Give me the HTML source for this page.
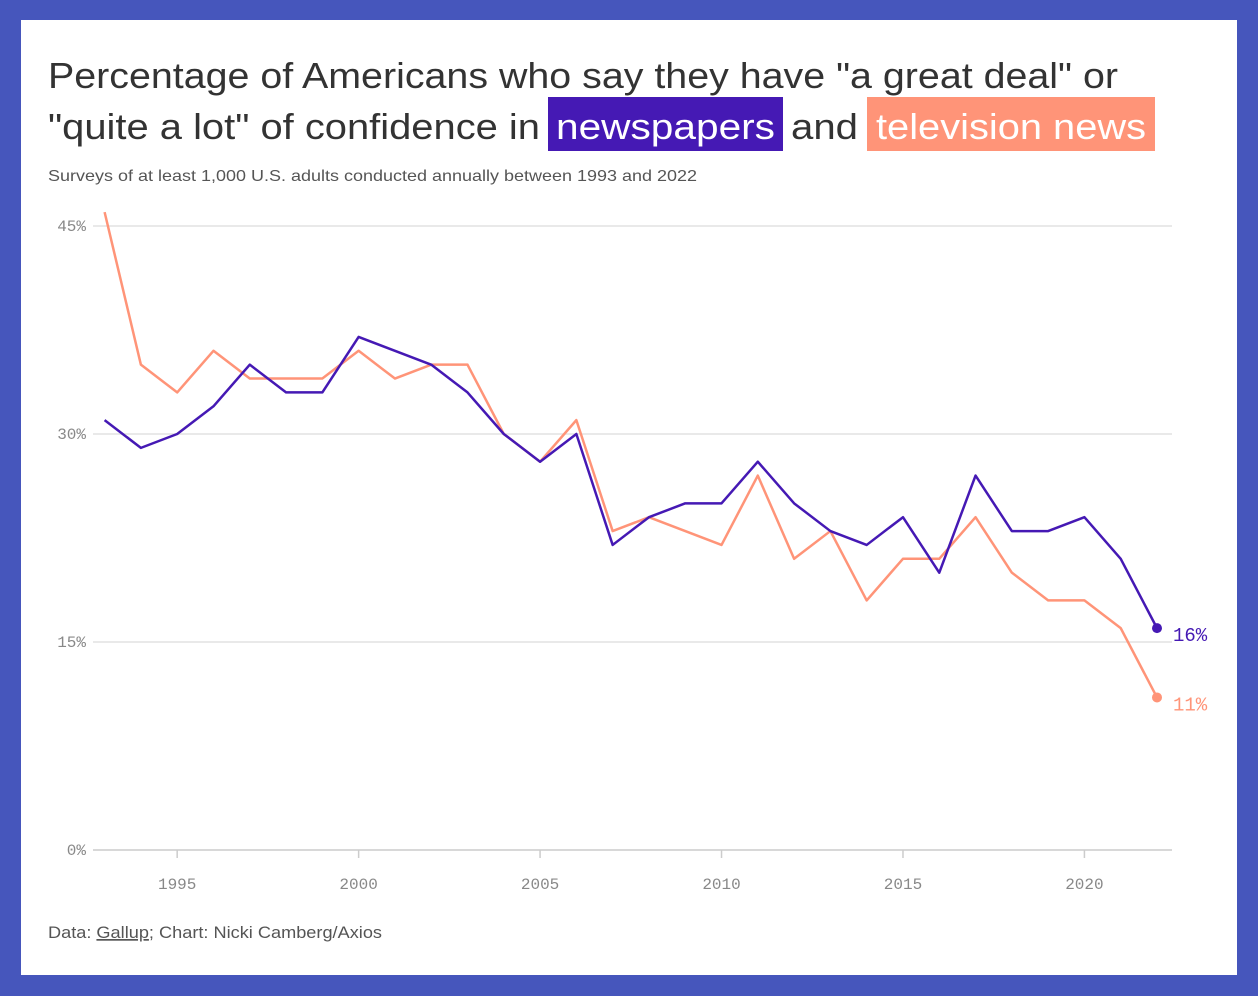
<!DOCTYPE html>
<html><head><meta charset="utf-8"><style>
body{margin:0;background:#4656bc;}
svg{display:block;}
</style></head><body>
<svg width="1258" height="996" xmlns="http://www.w3.org/2000/svg">
<rect x="0" y="0" width="1258" height="996" fill="#4656bc"/>
<rect x="21" y="20" width="1216" height="955" fill="#fff"/>
<g font-family="Liberation Sans, sans-serif" fill="#333">
<text x="48" y="88" font-size="36" textLength="1070" lengthAdjust="spacingAndGlyphs">Percentage of Americans who say they have "a great deal" or</text>
<text x="48" y="139" font-size="36" textLength="492" lengthAdjust="spacingAndGlyphs">"quite a lot" of confidence in</text>
<rect x="548" y="97" width="235" height="54" fill="#4519b4"/>
<text x="556" y="139" font-size="36" fill="#fff" textLength="219" lengthAdjust="spacingAndGlyphs">newspapers</text>
<text x="791" y="139" font-size="36" textLength="67" lengthAdjust="spacingAndGlyphs">and</text>
<rect x="867" y="97" width="288" height="54" fill="#ff9478"/>
<text x="876" y="139" font-size="36" fill="#fff" textLength="270" lengthAdjust="spacingAndGlyphs">television news</text>
<text x="48" y="181" font-size="16" fill="#555" textLength="649" lengthAdjust="spacingAndGlyphs">Surveys of at least 1,000 U.S. adults conducted annually between 1993 and 2022</text>
<text x="48" y="938" font-size="17" fill="#555" textLength="334" lengthAdjust="spacingAndGlyphs">Data: <tspan text-decoration="underline">Gallup</tspan>; Chart: Nicki Camberg/Axios</text>
</g>
<g id="plot"></g>
</svg>
<script>
const years=[1993,1994,1995,1996,1997,1998,1999,2000,2001,2002,2003,2004,2005,2006,2007,2008,2009,2010,2011,2012,2013,2014,2015,2016,2017,2018,2019,2020,2021,2022];
const newspapers=[31,29,30,32,35,33,33,37,36,35,33,30,28,30,22,24,25,25,28,25,23,22,24,20,27,23,23,24,21,16];
const television=[46,35,33,36,34,34,34,36,34,35,35,30,28,31,23,24,23,22,27,21,23,18,21,21,24,20,18,18,16,11];
const yTicks=[0,15,30,45];
const xTicks=[1995,2000,2005,2010,2015,2020];
const NS='http://www.w3.org/2000/svg';
const g=document.getElementById('plot');
const X=y=>104.6+(y-1993)*(1157-104.6)/29;
const Y=v=>850-v*(624/45);
function el(t,a){const e=document.createElementNS(NS,t);for(const k in a)e.setAttribute(k,a[k]);g.appendChild(e);return e;}
yTicks.forEach(t=>{
 const l=el('line',{x1:93,x2:1172,y1:Y(t),y2:Y(t),stroke:t===0?'#ccc':'#e2e2e2','stroke-width':1.5});
 
 
 const tx=el('text',{x:86,y:Y(t)+5,'text-anchor':'end','font-family':'Liberation Mono, monospace','font-size':16,fill:'#888'});
 tx.textContent=t+'%';
 
 
});
xTicks.forEach(t=>{
 const l=el('line',{x1:X(t),x2:X(t),y1:850,y2:858,stroke:'#ccc','stroke-width':1.5});
 
 
 const tx=el('text',{x:X(t),y:889,'text-anchor':'middle','font-family':'Liberation Mono, monospace','font-size':16,fill:'#888'});
 tx.textContent=t;
 
 
});
function series(vals,color,name){
 const p=el('polyline',{points:vals.map((v,i)=>X(years[i])+','+Y(v)).join(' '),fill:'none',stroke:color,'stroke-width':2.5,'stroke-linejoin':'round'});
 
 
 const n=vals.length-1;
 const c=el('circle',{cx:X(years[n]),cy:Y(vals[n]),r:5,fill:color});
 
 
 const t=el('text',{x:X(years[n])+16,y:Y(vals[n])+13,'font-family':'Liberation Mono, monospace','font-size':19,fill:color});
 t.textContent=vals[n]+'%';
 
 
}
series(television,'#ff9478','television');
series(newspapers,'#4519b4','newspapers');
</script>
</body></html>
